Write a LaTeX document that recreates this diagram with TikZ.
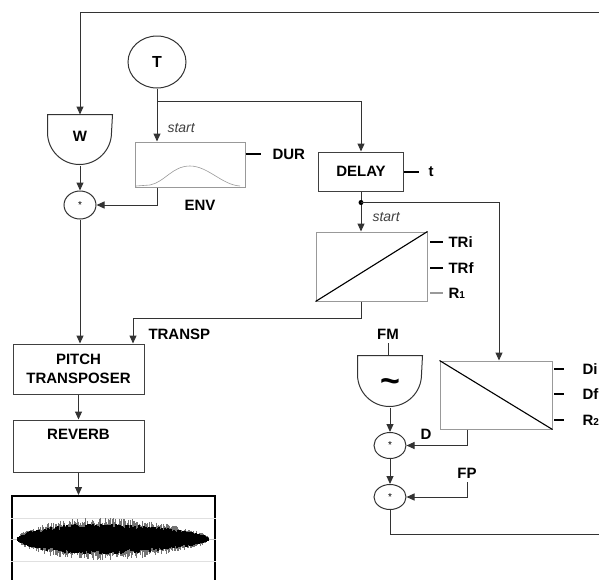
\documentclass[tikz,border=0pt]{standalone}
\usepackage{fontspec}
\setmainfont{Liberation Sans}
\usetikzlibrary{arrows.meta,positioning,shapes.geometric}

\begin{document}
\begin{tikzpicture}[
    x=1pt, y=1pt,
    line width=1pt,
    every node/.style={font=\fontsize{15}{19}\selectfont\bfseries},
    box/.style={rectangle, draw=black!75, inner sep=0pt, align=center},
    envbox/.style={rectangle, draw=black!40, inner sep=0pt},
    mult/.style={ellipse, draw=black!80, minimum width=32, minimum height=28, inner sep=0pt, font=\fontsize{10}{10}\selectfont},
    lbl/.style={anchor=west, inner sep=0pt},
    note/.style={anchor=west, inner sep=0pt, font=\fontsize{14}{15}\selectfont\itshape, text=black!75},
    arrow/.style={-{Triangle[length=8pt,width=7pt]}, draw=black!80},
    wire/.style={draw=black!80},
    tick/.style={draw=black, line width=1.4pt}
  ]
    \useasboundingbox (0,0) rectangle (599,-579);
    \clip (0,0) rectangle (599,-579);

    % sources
    \node[ellipse, draw=black!80, minimum width=58, minimum height=52, inner sep=0pt, font=\fontsize{16}{19}\selectfont\bfseries] (T) at (157,-62) {T};
    \node[minimum width=64, minimum height=50, inner sep=0pt] (W) at (80,-140) {};
    \draw[black!80] (W.north west) -- ++(0,-18) arc[start angle=180, end angle=360, radius=32] -- (W.north east) -- cycle;
    \node (wlbl) at (80,-136) {W};
    \node[mult] (m1) at (80,-205) {*};

    % envelope
    \node[envbox, minimum width=110, minimum height=45] (env) at (190,-164.5) {};
    \draw[black!40, line width=0.6pt] (136,-186) -- (150,-185) .. controls (165,-182) and (172,-166) .. (190,-166)
      .. controls (208,-166) and (222,-185) .. (240,-186);
    \node (envlbl) at (200,-205) {ENV};
    \node[lbl] (dur) at (272,-154) {DUR};
    \draw[tick] (env.east |- dur) -- ++(15,0);
    \node[note] (start1) at (167,-128) {start};

    % delay and ramps
    \node[box, minimum width=85, minimum height=39] (delay) at (361,-171.5) {DELAY};
    \node[lbl] (tlbl) at (428,-172) {t};
    \draw[tick] (delay.east |- tlbl) -- ++(15,0);
    \node[note] (start2) at (372,-217) {start};

    \node[envbox, minimum width=111, minimum height=69] (ramp1) at (371.5,-266.5) {};
    \draw[line width=1.1pt] (ramp1.south west) -- (ramp1.north east);
    \node[lbl] (tri) at (448,-242) {TRi};
    \node[lbl] (trf) at (448,-268) {TRf};
    \node[lbl] (r1) at (448,-293) {R{\fontsize{10}{10}\selectfont 1}};
    \draw[tick] ([xshift=-18]tri.west) -- ([xshift=-5]tri.west);
    \draw[tick] ([xshift=-18]trf.west) -- ([xshift=-5]trf.west);
    \draw[tick, black!40] ([xshift=-18]r1.west) -- ([xshift=-5]r1.west);

    \node[envbox, minimum width=112, minimum height=68] (ramp2) at (496,-395) {};
    \draw[line width=1.1pt] (ramp2.north west) -- (ramp2.south east);
    \node[lbl] (di) at (582,-369) {Di};
    \node[lbl] (df) at (582,-394) {Df};
    \node[lbl] (r2) at (582,-420) {R{\fontsize{10}{10}\selectfont 2}};
    \draw[tick] ([xshift=-28]di.west) -- ([xshift=-18]di.west);
    \draw[tick] ([xshift=-28]df.west) -- ([xshift=-18]df.west);
    \draw[tick] ([xshift=-28]r2.west) -- ([xshift=-18]r2.west);

    % modulation
    \node (fm) at (388,-334) {FM};
    \node[minimum width=64, minimum height=51, inner sep=0pt] (osc) at (390,-381.5) {};
    \draw[black!80] (osc.north west) -- ++(0,-19) arc[start angle=180, end angle=360, radius=32] -- (osc.north east) -- cycle;
    \node[font=\fontsize{34}{34}\selectfont\bfseries] (tilde) at (390,-386) {\char"007E};
    \node[mult, minimum height=26] (m2) at (390,-445.5) {*};
    \node[mult, minimum height=25] (m3) at (390,-497) {*};
    \node (dlbl) at (426,-434) {D};
    \node (fp) at (467,-473) {FP};

    % output chain
    \node[box, minimum width=131, minimum height=50] (pitch) at (78.5,-369) {PITCH\\TRANSPOSER};
    \node[box, minimum width=131, minimum height=52, below=25pt of pitch] (reverb) {};
    \node[below=9pt of reverb.north, inner sep=0pt] (revlbl) {REVERB};
    \node[rectangle, draw=black, line width=2pt, minimum width=203, minimum height=100, anchor=north] (wave) at (113.5,-495) {};
    \node[lbl] (transp) at (148,-334) {TRANSP};

    % waveform
    \foreach \yy in {-518,-561} \draw[black!12, line width=0.6pt] (wave.west |- 0,\yy) -- (wave.east |- 0,\yy);
    \draw[black!25, line width=0.5pt] (wave.west |- 0,-539) -- (wave.east |- 0,-539);
    \pgfmathsetseed{42}
    \foreach \i in {1,...,191}{
      \pgfmathsetmacro{\amp}{18*sqrt(sin(\i*0.937))*(1.08-0.3*\i/191)}
      \pgfmathsetmacro{\su}{\amp*(0.8+0.45*rnd)}
      \pgfmathsetmacro{\sd}{\amp*(0.8+0.45*rnd)}
      \draw[line width=0.35pt, black!55] (17.5+\i,-539+\su) -- (17.5+\i,-539-\sd);
    }
    \foreach \i in {1,...,191}{
      \pgfmathsetmacro{\amp}{18*sqrt(sin(\i*0.937))*(1.08-0.3*\i/191)}
      \pgfmathsetmacro{\up}{\amp*(0.62+0.3*rnd)}
      \pgfmathsetmacro{\dn}{\amp*(0.62+0.3*rnd)}
      \draw[line width=1.5pt] (17+\i,-539+\up) -- (17+\i,-539-\dn);
    }

    % connectors
    \coordinate (loopin) at (599,-12);
    \coordinate (loopout) at (599,-534);
    \coordinate (split1) at ([yshift=-13]T.south);
    \coordinate (split2) at ([yshift=-11]delay.south);
    \draw[arrow] (loopin) -| (W.north);
    \draw[arrow] (W.south) -- (m1.north);
    \draw[arrow] (T.south) -- (T.south |- env.north);
    \draw[arrow] (split1) -| (delay.north);
    \draw[arrow] (env.south -| T.south) |- (m1.east);
    \draw[arrow] (m1.south) -- (m1.south |- pitch.north);
    \draw[arrow] (delay.south) -- (delay.south |- ramp1.north);
    \fill[black] (split2) circle (2.5);
    \draw[arrow] (split2) -| ([xshift=3]ramp2.north);
    \draw[arrow] (ramp1.south -| split2) -- ++(0,-17) -| ([xshift=54.5]pitch.north);
    \draw[arrow] (pitch.south) -- (reverb.north);
    \draw[arrow] (reverb.south) -- (reverb.south |- wave.north);
    \draw[wire] (fm.south) -- (osc.north -| fm.south);
    \draw[arrow] (osc.south) -- (m2.north);
    \draw[arrow] ([xshift=-29]ramp2.south) |- (m2.east);
    \draw[arrow] (m2.south) -- (m3.north);
    \draw[arrow] (fp.south) |- (m3.east);
    \draw[wire] (m3.south) |- (loopout);
  \end{tikzpicture}
\end{document}
